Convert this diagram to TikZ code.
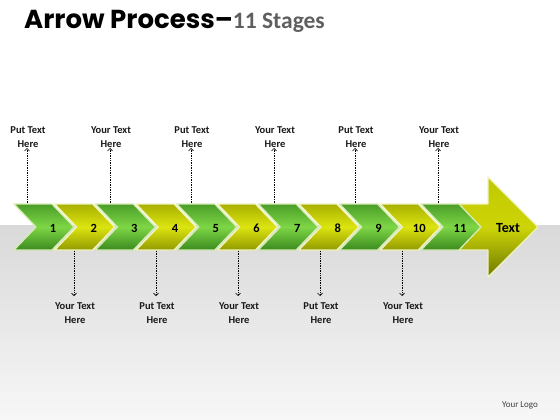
\documentclass[tikz,border=0pt]{standalone}
\usepackage{fontspec}
\setmainfont{Carlito}
\newfontfamily\titlefont{Poppins}
\usetikzlibrary{arrows.meta}
\definecolor{gdark}{HTML}{4A9E28}
\definecolor{glight}{HTML}{7ED646}
\definecolor{gdarkb}{HTML}{3A8A1E}
\definecolor{gedge}{HTML}{D6ECB4}
\definecolor{ydark}{HTML}{A8B000}
\definecolor{ylight}{HTML}{DCE410}
\definecolor{ydarkb}{HTML}{929A00}
\definecolor{yedge}{HTML}{F0F4BE}
\definecolor{atop}{HTML}{C0C800}
\definecolor{amid}{HTML}{CDD508}
\definecolor{abot}{HTML}{6E7800}
\definecolor{bandtop}{HTML}{D9D9D9}
\definecolor{bandbot}{HTML}{F7F7F7}
\definecolor{titlegrey}{HTML}{5F5F5F}
\definecolor{logogrey}{HTML}{404040}
\begin{document}
\begin{tikzpicture}[x=1pt,y=-1pt,
  greenchev/.style={top color=gdark, bottom color=gdarkb, middle color=glight, draw=gedge, line width=1.3pt, line join=round},
  yellowchev/.style={top color=ydark, bottom color=ydarkb, middle color=ylight, draw=yedge, line width=1.3pt, line join=round},
  bigarrow/.style={top color=atop, bottom color=abot, middle color=amid, draw=yedge, line width=1.3pt, line join=round},
  numlabel/.style={font=\fontsize{12.5}{14}\selectfont\bfseries, text=black, inner sep=0pt},
  note/.style={font=\fontsize{10.5}{13.5}\selectfont\bfseries, text=black!90, align=center, inner sep=1pt},
  conn/.style={densely dotted, line width=0.7pt, -{Straight Barb[length=2.5pt,width=5pt]}},
]
\useasboundingbox (0,0) rectangle (560,420);
\fill[white] (0,0) rectangle (560,225);
\shade[top color=bandtop, bottom color=bandbot] (0,225) rectangle (560,420);

% title
\node[anchor=base west, inner sep=0pt] (title) at (24,29)
  {\titlefont\fontsize{26}{28}\selectfont\bfseries Arrow Process–{\fontspec{Carlito}\bfseries\fontsize{23.5}{26}\selectfont\color{titlegrey}11 Stages}};

% big arrow
\shade[bigarrow] (455,204) -- (488,204) -- (488,177) -- (538,227) -- (488,277) -- (488,250) -- (455,250) -- cycle;
\node[font=\fontsize{14}{16}\selectfont\bfseries, inner sep=0pt] (txt) at (508,228) {Text};

% chevrons
\foreach \i in {1,...,11} {
  \pgfmathsetmacro\xo{14+40.7*(\i-1)}
  \ifodd\i
    \shade[greenchev] (\xo,204) -- (\xo+38,204) -- (\xo+60,227) -- (\xo+38,250) -- (\xo,250) -- (\xo+22,227) -- cycle;
  \else
    \shade[yellowchev] (\xo,204) -- (\xo+38,204) -- (\xo+60,227) -- (\xo+38,250) -- (\xo,250) -- (\xo+22,227) -- cycle;
  \fi
  \node[numlabel] (n\i) at (\xo+39,228) {\i};
}

% top notes
\foreach \k/\x/\t in {1/27/Put, 2/110/Your, 3/191/Put, 4/274/Your, 5/355/Put, 6/438/Your} {
  \coordinate (ta\k) at (\x,203);
  \node[note] (tn\k) at (\x+1,137) {\t{} Text\\Here};
  \draw[conn] (ta\k) -- (\x,148);
}

% bottom notes
\foreach \k/\x/\t in {1/74/Your, 2/156/Put, 3/238/Your, 4/320/Put, 5/402/Your} {
  \coordinate (ba\k) at (\x,251);
  \node[note] (bn\k) at (\x+1,313) {\t{} Text\\Here};
  \draw[conn] (ba\k) -- (\x,296);
}

\node[font=\fontsize{9}{11}\selectfont, text=logogrey, inner sep=0pt] (logo) at (520,405) {Your Logo};
\end{tikzpicture}
\end{document}
